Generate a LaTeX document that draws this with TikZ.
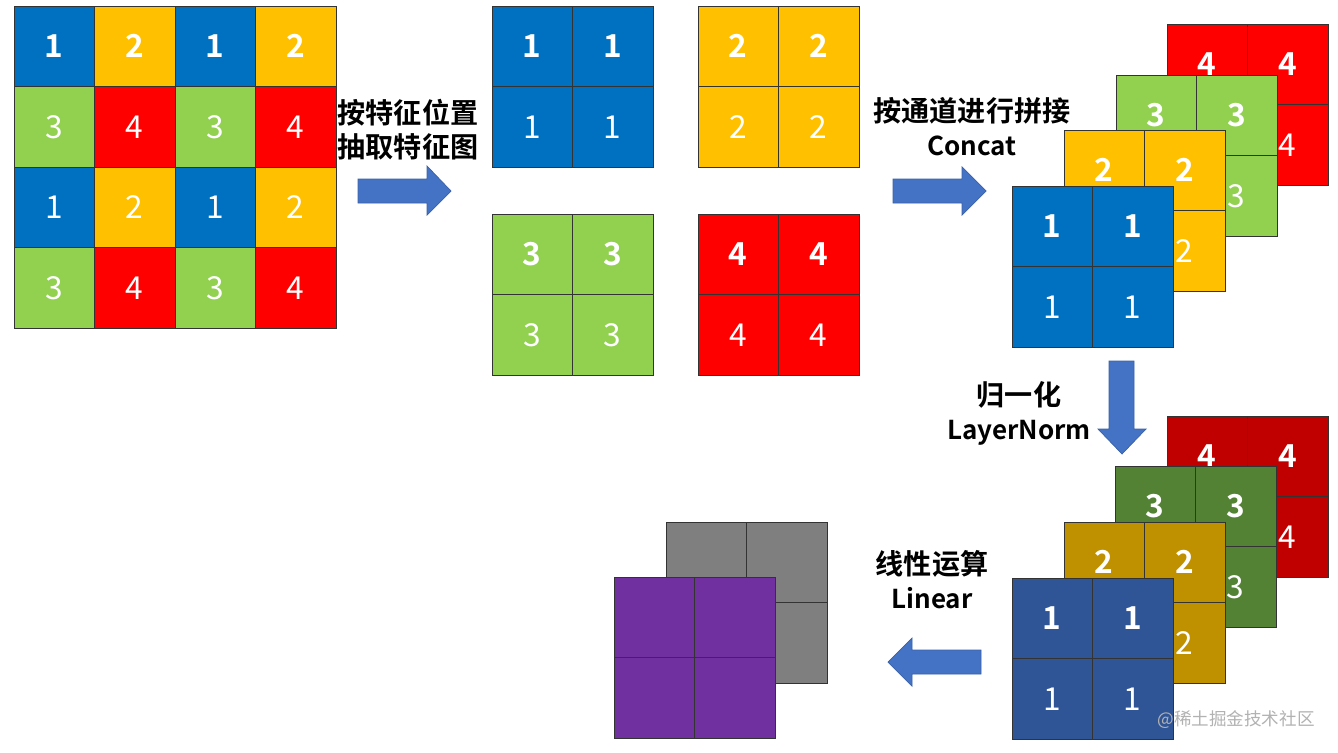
\documentclass[tikz,border=0pt]{standalone}
\usepackage{fontspec}
\setmainfont{Noto Sans CJK SC}[BoldFont={Noto Sans CJK SC Bold}]
\usetikzlibrary{calc}

\definecolor{map1}{HTML}{0070C0}
\definecolor{map2}{HTML}{FFC000}
\definecolor{map3}{HTML}{92D050}
\definecolor{map4}{HTML}{FF0000}
\definecolor{dark1}{HTML}{2F5597}
\definecolor{dark2}{HTML}{BF9000}
\definecolor{dark3}{HTML}{548235}
\definecolor{dark4}{HTML}{C00000}
\definecolor{outgray}{HTML}{7F7F7F}
\definecolor{outpurple}{HTML}{7030A0}
\definecolor{arrowblue}{HTML}{4472C4}

\newcommand{\latinline}{\fontsize{14.8}{19.3}\selectfont}

\tikzset{
  cell/.style={draw=black!80, line width=0.5pt, fill=#1, minimum size=1.61cm, inner sep=0pt,
    text=white, font=\fontsize{18}{18}\selectfont},
  opname/.style={font=\fontsize{16}{19.3}\selectfont\bfseries, align=center, inner sep=0pt},
  blockarrow/.style={fill=arrowblue, draw=arrowblue!85!black, line width=0.4pt}
}

\begin{document}
\begin{tikzpicture}[x=0.02cm, y=-0.02cm]

\useasboundingbox[fill=white] (0,0) rectangle (1338,752);

%INPUT FEATURE MAP 4x4
\foreach \r in {0,...,3}
  \foreach \c in {0,...,3} {
    \pgfmathtruncatemacro\n{1+mod(\c,2)+2*mod(\r,2)}
    \node[cell=map\n] (big-\r-\c) at ({54.25+80.5*\c},{46.25+80.5*\r}) {\ifnum\r=0 \bfseries\fi\n};
  }

%SPLIT MAPS
\foreach \k/\x/\y in {1/492/6, 2/698/6, 3/492/214, 4/698/214}
  \foreach \r in {0,1}
    \foreach \c in {0,1}
      \node[cell=map\k] (m\k-\r-\c) at ({\x+40.25+80.5*\c},{\y+40.25+80.5*\r}) {\ifnum\r=0 \bfseries\fi\k};

%CONCAT STACK
\foreach \k/\x/\y in {4/1167/24, 3/1116/75, 2/1064/130, 1/1012/186}
  \foreach \r in {0,1}
    \foreach \c in {0,1}
      \node[cell=map\k] (c\k-\r-\c) at ({\x+40.25+80.5*\c},{\y+40.25+80.5*\r}) {\ifnum\r=0 \bfseries\fi\k};

%NORM STACK
\foreach \k/\x/\y in {4/1167/416, 3/1115/466, 2/1064/522, 1/1012/578}
  \foreach \r in {0,1}
    \foreach \c in {0,1}
      \node[cell=dark\k] (n\k-\r-\c) at ({\x+40.25+80.5*\c},{\y+40.25+80.5*\r}) {\ifnum\r=0 \bfseries\fi\k};

%OUTPUT
\foreach \k/\col/\x/\y in {2/outgray/666/522, 1/outpurple/614/577}
  \foreach \r in {0,1}
    \foreach \c in {0,1}
      \node[cell=\col] (o\k-\r-\c) at ({\x+40.25+80.5*\c},{\y+40.25+80.5*\r}) {};

%ARROWS
\filldraw[blockarrow] (358,179) -- (427,179) -- (427,166) -- (451,191) -- (427,215) -- (427,203) -- (358,203) -- cycle;
\filldraw[blockarrow] (893,179) -- (962,179) -- (962,167) -- (986,191) -- (962,215) -- (962,203) -- (893,203) -- cycle;
\filldraw[blockarrow] (1109,361) -- (1134,361) -- (1134,429) -- (1146,429) -- (1122,454) -- (1098,429) -- (1109,429) -- cycle;
\filldraw[blockarrow] (981,650) -- (912,650) -- (912,638) -- (888,662) -- (912,686) -- (912,674) -- (981,674) -- cycle;

%LABELS
\node[opname] (extract) at (408,130) {按特征位置\\抽取特征图};
\node[opname] (concat) at (972,127) {按通道进行拼接\\{\latinline Concat}};
\node[opname] (norm) at (1019,413) {归一化\\{\latinline LayerNorm}};
\node[opname] (linear) at (932,580) {线性运算\\{\latinline Linear}};

\node[text=black!30, font=\fontsize{10}{10}\selectfont] (mark) at (1236,720) {@稀土掘金技术社区};

\end{tikzpicture}
\end{document}
